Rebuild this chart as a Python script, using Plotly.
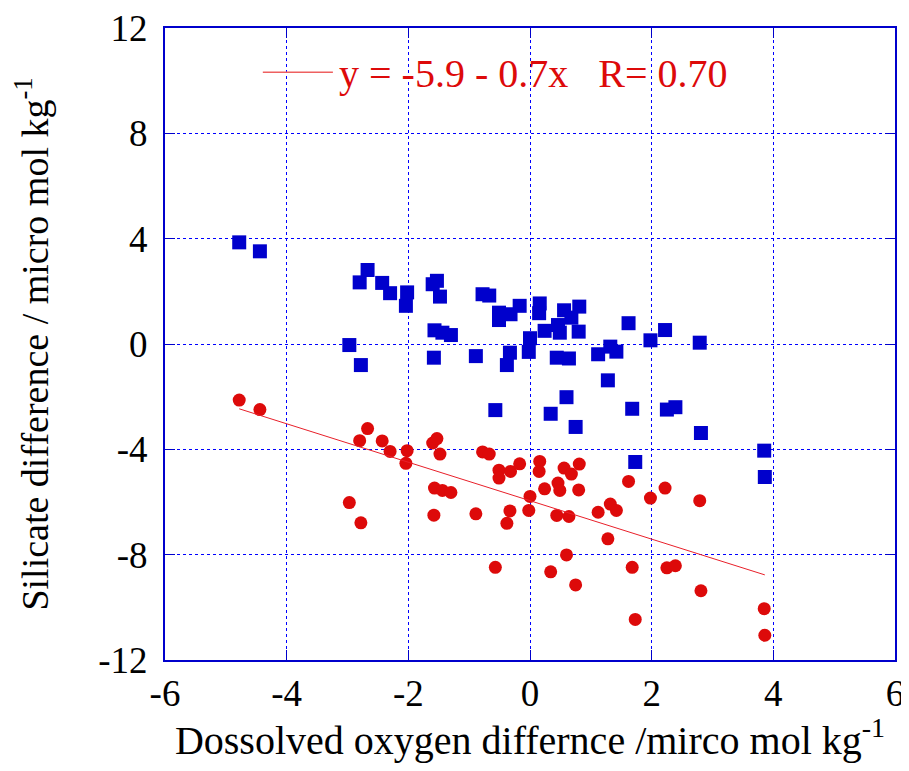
import plotly.graph_objects as go

# x: dissolved oxygen difference (shared by both series)
do_diff = [-4.78, -4.44, -2.67, -2.80, -2.43, -2.30, -2.02, -2.04, -1.60, -1.53,
           -1.48, -0.78, -0.67, -0.51, -0.51, -0.32, -0.17, -1.57, -1.44, -1.30,
           -2.97, -2.78, -1.58, -0.89, -0.33, -0.38, -0.57, 0.16, 0.15, 0.56,
           0.81, 0.68, 0.24, 0.46, 0.49, 0.80, 0.00, -0.02, 0.44, 0.64,
           1.12, 1.32, 1.42, 1.62, 1.98, 2.22, 2.79, 1.28, 0.60, 0.34,
           0.75, 1.68, 2.25, 2.39, 2.81, 3.85, 1.73, 3.86]

# blue squares: silicate difference
si_diff = [3.86, 3.52, 2.81, 2.34, 2.32, 1.93, 1.96, 1.45, 2.27, 2.40,
           1.80, 1.89, 1.84, 1.19, 0.91, 1.13, 1.45, 0.52, 0.43, 0.34,
           -0.04, -0.80, -0.52, -0.46, -0.33, -0.80, -2.51, 1.54, 1.17, 1.28,
           1.42, 1.00, 0.50, 0.72, 0.43, 0.47, 0.22, -0.30, -0.52, -0.55,
           -0.39, -0.10, -0.29, 0.79, 0.14, 0.53, 0.05, -1.38, -2.02, -2.65,
           -3.15, -2.46, -2.49, -2.40, -3.38, -4.05, -4.48, -5.05]

# red circles
si_red = [-2.13, -2.49, -3.21, -3.67, -3.68, -4.08, -4.05, -4.53, -3.76, -3.59,
          -4.18, -4.10, -4.18, -4.79, -5.09, -4.84, -4.55, -5.47, -5.56, -5.64,
          -6.02, -6.79, -6.50, -6.45, -6.34, -6.81, -8.48, -4.46, -4.84, -4.71,
          -4.56, -4.94, -5.50, -5.28, -5.56, -5.54, -5.79, -6.32, -6.51, -6.55,
          -6.39, -6.08, -6.32, -5.22, -5.85, -5.47, -5.95, -7.40, -8.01, -8.65,
          -9.15, -8.48, -8.50, -8.42, -9.37, -10.05, -10.46, -11.06]

fit_a = -5.95
fit_b = -0.73
fit_label = "y = -5.9 - 0.7x   R= 0.70"

x_ticks = [-6, -4, -2, 0, 2, 4, 6]
x_ticktext = ["-6", "-4", "-2", "0", "2", "4", "6"]
y_ticks = [-12, -8, -4, 0, 4, 8, 12]
y_ticktext = ["-12", "-8", "-4", "0", "4", "8", "12"]

FONT = "Liberation Serif, Times New Roman, serif"
RED = "#dd0a0a"
BLUE = "#0000cc"

fit_x = [min(do_diff), max(do_diff)]
fit_y = [fit_a + fit_b * v for v in fit_x]

fig = go.Figure()
fig.add_trace(go.Scatter(
    x=do_diff, y=si_diff, mode="markers", showlegend=False,
    marker=dict(symbol="square", size=14, color=BLUE, line=dict(width=0))
))
fig.add_trace(go.Scatter(
    x=do_diff, y=si_red, mode="markers", showlegend=False,
    marker=dict(symbol="circle", size=13, color=RED, line=dict(width=0))
))
fig.add_trace(go.Scatter(
    x=fit_x, y=fit_y, mode="lines", showlegend=False,
    line=dict(color="#e8202a", width=1)
))

# legend-like key: short line + equation text
fig.add_shape(type="line", xref="paper", yref="paper",
              x0=0.134, x1=0.230, y0=0.93, y1=0.93,
              line=dict(color="#ee6060", width=1.5))
fig.add_annotation(text=fit_label, xref="paper", yref="paper",
                   x=0.236, y=0.928, xanchor="left", yanchor="middle",
                   showarrow=False, font=dict(family=FONT, size=40, color=RED))

axis_common = dict(
    showgrid=True, gridcolor="#0000ff", griddash="dot", gridwidth=1,
    zeroline=False, showline=True, linecolor=BLUE, linewidth=2,
    mirror="ticks", ticks="inside", ticklen=10, tickcolor=BLUE,
    tickfont=dict(family=FONT, size=37, color="black"),
    ticklabeloverflow="allow",
    automargin=False,
)

# page body adds an 8px margin, so size the figure to avoid a vertical scrollbar
fig.update_layout(
    width=901, height=755,
    margin=dict(l=157, r=14, t=20, b=103),
    paper_bgcolor="white", plot_bgcolor="white",
    font=dict(family=FONT),
    xaxis=dict(range=[-6, 6], tickvals=x_ticks, ticktext=x_ticktext,
               ticklabelstandoff=0,
               title=dict(text="Dossolved oxygen differnce /mirco mol kg<sup>-1</sup>",
                          standoff=14, font=dict(family=FONT, size=40, color="black")),
               **axis_common),
    yaxis=dict(range=[-12, 12], tickvals=y_ticks, ticktext=y_ticktext,
               ticklabelstandoff=8,
               title=dict(text="Silicate difference / micro mol kg<sup>-1</sup>",
                          standoff=38, font=dict(family=FONT, size=38, color="black")),
               **axis_common),
)

fig.write_html("out.html")
